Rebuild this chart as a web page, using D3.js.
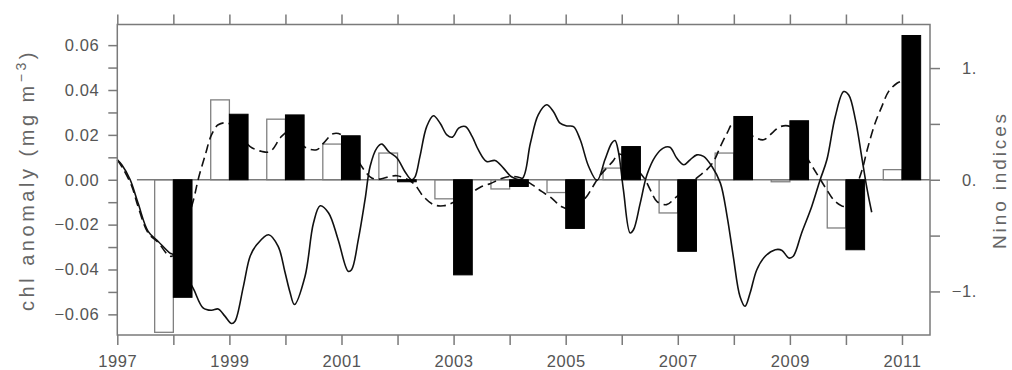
<!DOCTYPE html>
<html><head><meta charset="utf-8">
<script src="https://cdn.jsdelivr.net/npm/d3@7"></script>
<style>body{margin:0;background:#fff}svg{display:block}</style>
</head><body>
<svg id="c" width="1012" height="370"></svg>
<script>
// ---- data ----
const barYears = [1998,1999,2000,2001,2002,2003,2004,2005,2006,2007,2008,2009,2010,2011];
const openBars = [-0.068,0.0356,0.0270,0.0159,0.0119,-0.0085,-0.0041,-0.0057,0.0052,-0.0148,0.0119,-0.0009,-0.0215,0.0045];
const filledBars = [-0.0524,0.0292,0.0289,0.0196,-0.0009,-0.0424,-0.0030,-0.0217,0.0148,-0.0319,0.0282,0.0263,-0.0312,0.0643];

const solidYears = [1997.00,1997.08,1997.23,1997.37,1997.55,1997.73,1997.94,1998.00,1998.15,1998.35,1998.53,1998.68,1998.80,1998.92,1999.04,1999.10,1999.25,1999.37,1999.49,1999.70,1999.87,1999.99,2000.08,2000.16,2000.35,2000.50,2000.62,2000.77,2000.94,2001.12,2001.18,2001.30,2001.42,2001.51,2001.63,2001.72,2001.84,2001.99,2002.13,2002.25,2002.31,2002.40,2002.52,2002.64,2002.76,2002.88,2002.98,2003.09,2003.21,2003.33,2003.44,2003.59,2003.74,2003.89,2004.04,2004.22,2004.37,2004.51,2004.66,2004.78,2004.90,2005.02,2005.14,2005.26,2005.41,2005.56,2005.70,2005.82,2005.88,2005.94,2006.03,2006.15,2006.21,2006.33,2006.45,2006.60,2006.74,2006.86,2006.98,2007.11,2007.22,2007.34,2007.46,2007.61,2007.76,2007.88,2007.99,2008.11,2008.20,2008.29,2008.41,2008.56,2008.74,2008.86,2008.98,2009.06,2009.21,2009.39,2009.54,2009.66,2009.81,2009.96,2010.05,2010.17,2010.29,2010.38,2010.46];
const solidVals = [0.0089,0.0067,0.0000,-0.0104,-0.0230,-0.0275,-0.0327,-0.0334,-0.0400,-0.0482,-0.0571,-0.0582,-0.0576,-0.0608,-0.0641,-0.0631,-0.0475,-0.0341,-0.0289,-0.0245,-0.0297,-0.0410,-0.0500,-0.0556,-0.0430,-0.0193,-0.0116,-0.0148,-0.0267,-0.0408,-0.0401,-0.0267,-0.0089,0.0059,0.0141,0.0159,0.0126,0.0097,0.0037,0.0000,0.0012,0.0104,0.0237,0.0285,0.0252,0.0200,0.0190,0.0230,0.0237,0.0193,0.0134,0.0081,0.0086,0.0052,0.0012,0.0003,0.0163,0.0289,0.0334,0.0304,0.0252,0.0240,0.0237,0.0178,0.0059,-0.0003,0.0089,0.0163,0.0175,0.0126,-0.0045,-0.0237,-0.0223,-0.0104,0.0022,0.0104,0.0141,0.0145,0.0097,0.0067,0.0089,0.0111,0.0104,0.0059,-0.0015,-0.0163,-0.0341,-0.0520,-0.0564,-0.0505,-0.0401,-0.0341,-0.0312,-0.0315,-0.0349,-0.0341,-0.0237,-0.0119,0.0000,0.0089,0.0282,0.0393,0.0378,0.0267,0.0089,-0.0045,-0.0145];

const dashYears = [1997.00,1997.10,1997.26,1997.37,1997.55,1997.73,1997.94,1998.05,1998.20,1998.36,1998.45,1998.57,1998.68,1998.80,1998.98,1999.15,1999.37,1999.58,1999.73,1999.93,2000.10,2000.35,2000.56,2000.68,2000.85,2001.00,2001.20,2001.36,2001.54,2001.69,2001.87,2001.99,2002.19,2002.31,2002.46,2002.64,2002.82,2002.97,2003.15,2003.35,2003.50,2003.65,2003.83,2004.01,2004.20,2004.40,2004.57,2004.75,2004.92,2005.10,2005.35,2005.47,2005.58,2005.73,2005.84,2005.95,2006.15,2006.33,2006.42,2006.51,2006.63,2006.80,2006.95,2007.15,2007.34,2007.52,2007.64,2007.76,2007.88,2007.99,2008.15,2008.35,2008.53,2008.71,2008.83,2009.00,2009.15,2009.33,2009.51,2009.66,2009.81,2009.99,2010.15,2010.29,2010.38,2010.52,2010.64,2010.76,2010.91,2010.98];
const dashVals = [0.0089,0.0050,-0.0030,-0.0119,-0.0237,-0.0280,-0.0341,-0.0330,-0.0220,-0.0089,0.0008,0.0111,0.0200,0.0245,0.0252,0.0210,0.0148,0.0126,0.0126,0.0193,0.0220,0.0145,0.0134,0.0163,0.0205,0.0200,0.0130,0.0059,0.0008,0.0003,0.0015,0.0018,0.0000,-0.0022,-0.0074,-0.0111,-0.0116,-0.0104,-0.0080,-0.0052,-0.0030,-0.0018,0.0003,0.0015,0.0008,-0.0022,-0.0052,-0.0082,-0.0119,-0.0130,-0.0082,-0.0037,0.0008,0.0052,0.0082,0.0115,0.0080,0.0030,0.0000,-0.0045,-0.0097,-0.0111,-0.0082,-0.0040,0.0008,0.0045,0.0082,0.0148,0.0208,0.0252,0.0220,0.0193,0.0178,0.0215,0.0237,0.0237,0.0180,0.0089,0.0015,-0.0045,-0.0097,-0.0119,-0.0050,0.0045,0.0134,0.0252,0.0326,0.0393,0.0430,0.0438];

const xTickYears = [1997,1998,1999,2000,2001,2002,2003,2004,2005,2006,2007,2008,2009,2010,2011];
const xLabelYears = [1997,1999,2001,2003,2005,2007,2009,2011];
const leftTicks = [-0.06,-0.05,-0.04,-0.03,-0.02,-0.01,0,0.01,0.02,0.03,0.04,0.05,0.06];
const leftLabelTicks = [-0.06,-0.04,-0.02,0,0.02,0.04,0.06];
const ninoTicks = [-1,-0.5,0,0.5,1];
const ninoLabels = {"-1":"\u22121.","0":"0.","1":"1."};

// ---- layout ----
const L = 117.3, R = 930, T = 24.5, B = 335;
const svg = d3.select("#c");
const font = "'Liberation Sans', Arial, sans-serif";
const axisCol = "#7a7a7a", textCol = "#555";

const x = d3.scaleLinear().domain([1997, 2011.5]).range([L, R]);
const y = d3.scaleLinear().domain([-0.0692, 0.0692]).range([B, T]);
const yN = d3.scaleLinear().domain([-1.39, 1.39]).range([B, T]);

// open bars
svg.append("g").selectAll("rect").data(barYears).join("rect")
  .attr("x", d => x(d - 1/3)).attr("width", d => x(d) - x(d - 1/3))
  .attr("y", (d,i) => y(Math.max(0, openBars[i])))
  .attr("height", (d,i) => Math.abs(y(openBars[i]) - y(0)))
  .attr("fill", "none").attr("stroke", "#808080").attr("stroke-width", 1.3);

// zero line
svg.append("line").attr("x1", x(1997.35)).attr("x2", R)
  .attr("y1", y(0)).attr("y2", y(0)).attr("stroke", axisCol).attr("stroke-width", 1.4);

// lines
const line = d3.line().x(d => x(d[0])).y(d => y(d[1])).curve(d3.curveCatmullRom.alpha(0.5));
svg.append("path").datum(solidYears.map((t,i) => [t, solidVals[i]]))
  .attr("d", line).attr("fill", "none").attr("stroke", "#111").attr("stroke-width", 1.6);
svg.append("path").datum(dashYears.map((t,i) => [t, dashVals[i]]))
  .attr("d", line).attr("fill", "none").attr("stroke", "#111").attr("stroke-width", 1.6)
  .attr("stroke-dasharray", "9,5");

// filled bars
svg.append("g").selectAll("rect").data(barYears).join("rect")
  .attr("x", d => x(d)).attr("width", d => x(d + 1/3) - x(d))
  .attr("y", (d,i) => y(Math.max(0, filledBars[i])))
  .attr("height", (d,i) => Math.max(1.5, Math.abs(y(filledBars[i]) - y(0))))
  .attr("fill", "#000").attr("stroke", "#000").attr("stroke-width", 1);

// frame
svg.append("rect").attr("x", L).attr("y", T).attr("width", R - L).attr("height", B - T)
  .attr("fill", "none").attr("stroke", axisCol).attr("stroke-width", 1.5);

function styleAxis(g) {
  g.select(".domain").remove();
  g.selectAll("line").attr("stroke", axisCol).attr("stroke-width", 1.5);
  g.selectAll("text").attr("fill", textCol).style("font-family", font)
    .style("font-size", "16.5px").style("letter-spacing", "0.6px");
}

// bottom axis
svg.append("g").attr("transform", `translate(0,${B})`)
  .call(d3.axisBottom(x).tickValues(xTickYears).tickSize(10).tickPadding(10)
    .tickFormat(d => xLabelYears.includes(d) ? String(d) : ""))
  .call(styleAxis);
// top axis
svg.append("g").attr("transform", `translate(0,${T})`)
  .call(d3.axisTop(x).tickValues(xTickYears).tickSize(10).tickFormat(""))
  .call(styleAxis);
// left axis
svg.append("g").attr("transform", `translate(${L},0)`)
  .call(d3.axisLeft(y).tickValues(leftTicks).tickSize(9).tickPadding(9)
    .tickFormat(d => leftLabelTicks.some(v => Math.abs(v - d) < 1e-9) ? d3.format(".2f")(d) : ""))
  .call(styleAxis);
// right axis
const gR = svg.append("g").attr("transform", `translate(${R},0)`)
  .call(d3.axisRight(yN).tickValues(ninoTicks).tickSize(10)
    .tickFormat(d => ninoLabels[String(d)] || ""))
  .call(styleAxis);
gR.selectAll("text").attr("text-anchor", "end").attr("x", 47);

// titles
function fitTitle(sel, target) {
  const n = sel.text().length;
  const w = sel.node().getComputedTextLength();
  sel.style("letter-spacing", ((target - w) / n) + "px");
}
const tl = svg.append("text").attr("transform", "translate(33.5,180) rotate(-90)")
  .attr("text-anchor", "middle").attr("fill", "#666")
  .style("font-family", font).style("font-size", "20px");
tl.append("tspan").text("chl anomaly (mg m");
tl.append("tspan").attr("dy", -8).style("font-size", "14px").text("\u22123");
tl.append("tspan").attr("dy", 8).text(")");
fitTitle(tl, 262);

const tr = svg.append("text").attr("transform", "translate(1006,180) rotate(-90)")
  .attr("text-anchor", "middle").attr("fill", "#666")
  .style("font-family", font).style("font-size", "19px").text("Nino indices");
fitTitle(tr, 138);
</script>
</body></html>
